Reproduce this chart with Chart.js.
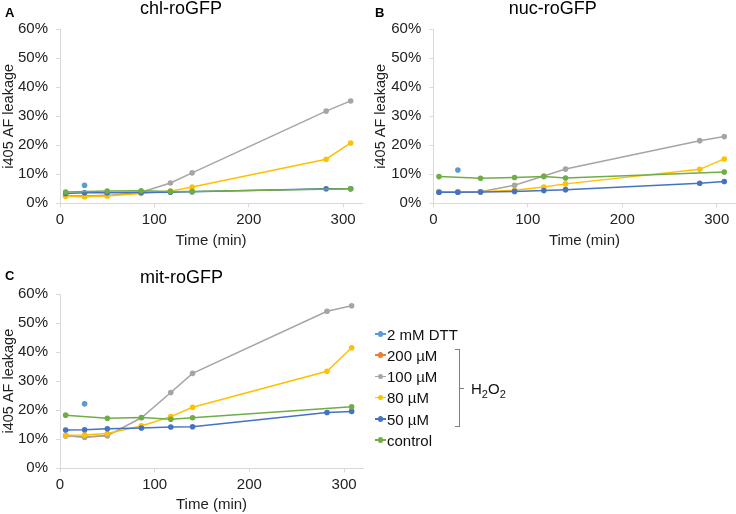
<!DOCTYPE html>
<html><head><meta charset="utf-8">
<script src="https://cdn.jsdelivr.net/npm/chart.js@4.4.0/dist/chart.umd.min.js"></script>
<style>
html,body{margin:0;padding:0;background:#fff;overflow:hidden;width:736px;height:514px;font-family:"Liberation Sans",Arial,sans-serif;}
canvas{position:absolute;}
.pl{position:absolute;font-weight:bold;font-size:13px;line-height:1;color:#000;}
.lg{position:absolute;font-size:15px;line-height:1;color:#111;white-space:nowrap;}
.mk{position:absolute;}
</style></head><body>
<canvas id="cA" width="376" height="250" style="left:0;top:0"></canvas>
<canvas id="cB" width="377" height="250" style="left:370px;top:0"></canvas>
<canvas id="cC" width="379" height="245" style="left:0;top:269px"></canvas>
<div class="pl" style="left:5px;top:6px">A</div>
<div class="pl" style="left:375px;top:6px">B</div>
<div class="pl" style="left:5px;top:269px">C</div>
<div id="legend"></div>
<div style="position:absolute;left:455px;top:349px;width:4px;height:76px;border:1px solid #808080;border-left:none;"></div>
<div style="position:absolute;left:460px;top:388px;width:4px;height:1px;background:#808080;"></div>
<div class="lg" style="left:471px;top:381px">H<span style="font-size:11px;position:relative;top:4px">2</span>O<span style="font-size:11px;position:relative;top:4px">2</span></div>
<script>
// time points (min)
const times = [6, 26, 50, 86, 117, 140, 282, 308];
const seriesNames = ['2 mM DTT', '200 µM', '100 µM', '80 µM', '50 µM', 'control'];
const seriesColors = ['#5B9BD5', '#ED7D31', '#A5A5A5', '#FFC000', '#4472C4', '#70AD47'];
const yTickLabels = ['0%', '10%', '20%', '30%', '40%', '50%', '60%'];

// Panel A: chl-roGFP (% i405 AF leakage)
const chlDTT  = [null, 6.2, null, null, null, null, null, null];
const chl200  = [2.6, 2.5, 2.8, null, null, null, null, null];
const chl100  = [2.6, 2.5, 2.7, 3.8, 7.0, 10.5, 31.8, 35.3];
const chl80   = [2.4, 2.3, 2.5, 3.4, 4.2, 5.6, 15.2, 20.8];
const chl50   = [3.4, 3.6, 3.6, 3.7, 3.8, 4.0, 5.0, 5.0];
const chlCtrl = [3.9, null, 4.2, 4.3, 4.1, 4.1, null, 5.0];

// Panel B: nuc-roGFP
const nucDTT  = [null, 11.5, null, null, null, null, null, null];
const nuc200  = [3.9, 3.9, 4.0, null, null, null, null, null];
const nuc100  = [3.9, 4.0, 4.0, 6.2, 9.4, 11.8, 21.6, 23.0];
const nuc80   = [3.9, 3.9, 4.0, 4.5, 5.6, 6.7, 11.7, 15.3];
const nuc50   = [3.8, 3.8, 3.9, 4.1, 4.4, 4.7, 6.9, 7.5];
const nucCtrl = [9.2, null, 8.6, 8.9, 9.2, 8.7, null, 10.8];

// Panel C: mit-roGFP
const mitDTT  = [null, 22.2, null, null, null, null, null, null];
const mit200  = [11.2, 10.8, 11.3, null, null, null, null, null];
const mit100  = [11.2, 10.7, 11.2, 17.4, 26.1, 32.7, 54.1, 56.0];
const mit80   = [11.4, 11.5, 12.0, 14.6, 17.8, 21.0, 33.4, 41.5];
const mit50   = [13.2, 13.3, 13.6, 13.9, 14.2, 14.3, 19.2, 19.6];
const mitCtrl = [18.3, null, 17.2, 17.5, 16.9, 17.4, null, 21.2];

Chart.defaults.font.family = '"Liberation Sans", Arial, sans-serif';
const axisColor = '#D9D9D9';
const textColor = '#222';

function makeChart(id, title, series, g) {
  const datasets = series.map((vals, i) => {
    const pts = [];
    vals.forEach((v, j) => { if (v !== null) pts.push({x: times[j], y: v}); });
    return {
      label: seriesNames[i],
      data: pts,
      borderColor: seriesColors[i],
      backgroundColor: seriesColors[i],
      borderWidth: 1.5,
      pointRadius: 2.8,
      pointBorderWidth: 0,
      pointHoverRadius: 2.8,
      showLine: i !== 0,
      tension: 0,
      order: series.length - i
    };
  });
  return new Chart(document.getElementById(id), {
    type: 'line',
    data: {datasets},
    options: {
      responsive: false,
      animation: false,
      layout: {padding: {left: 0, right: g.padRight, top: 0, bottom: 0}},
      plugins: {
        legend: {display: false},
        tooltip: {enabled: false},
        title: {display: true, text: title, color: '#000',
          font: {size: 18, weight: 'normal', lineHeight: 0.9},
          padding: {top: 1, bottom: g.titleGap}}
      },
      scales: {
        x: {
          type: 'linear', min: 0, max: 320,
          ticks: {stepSize: 100, includeBounds: false, color: textColor, font: {size: 15}, padding: 4, maxRotation: 0},
          grid: {drawOnChartArea: false, drawTicks: true, tickLength: 4, color: axisColor},
          border: {color: axisColor, width: 1},
          title: {display: true, text: 'Time (min)', color: textColor, font: {size: 15}, padding: {top: 0, bottom: g.xTitlePad}},
          afterFit: s => { s.height = g.xHeight; }
        },
        y: {
          min: 0, max: 60,
          ticks: {stepSize: 10, color: textColor, font: {size: 15}, padding: 8,
            callback: (v) => yTickLabels[Math.round(v / 10)]},
          grid: {drawOnChartArea: false, drawTicks: true, tickLength: 4, color: axisColor},
          border: {color: axisColor, width: 1},
          title: {display: true, text: 'i405 AF leakage', color: textColor, font: {size: 14.5}, padding: {top: g.yTitlePad, bottom: 0}},
          afterFit: s => { s.width = g.yWidth; }
        }
      }
    }
  });
}

makeChart('cA', 'chl-roGFP', [chlDTT, chl200, chl100, chl80, chl50, chlCtrl],
  {padRight: 14, titleGap: 12.1, xHeight: 46.7, xTitlePad: 0, yWidth: 60, yTitlePad: 0});
makeChart('cB', 'nuc-roGFP', [nucDTT, nuc200, nuc100, nuc80, nuc50, nucCtrl],
  {padRight: 11.4, titleGap: 12.1, xHeight: 46.7, xTitlePad: 0, yWidth: 63.3, yTitlePad: 2});
makeChart('cC', 'mit-roGFP', [mitDTT, mit200, mit100, mit80, mit50, mitCtrl],
  {padRight: 16, titleGap: 7.9, xHeight: 45.7, xTitlePad: 0, yWidth: 60, yTitlePad: 0});

// legend built from the series arrays
const lg = document.getElementById('legend');
seriesNames.forEach((name, i) => {
  const cy = 334 + i * 21.2;
  const line = document.createElement('div');
  line.className = 'mk';
  line.style.cssText = `left:375px;top:${cy - 0.75}px;width:11px;height:1.5px;background:${seriesColors[i]}`;
  const dot = document.createElement('div');
  dot.className = 'mk';
  dot.style.cssText = `left:${380.5 - 2.8}px;top:${cy - 2.8}px;width:5.6px;height:5.6px;border-radius:50%;background:${seriesColors[i]}`;
  const txt = document.createElement('div');
  txt.className = 'lg';
  txt.style.cssText = `left:387px;top:${cy - 7.3}px`;
  txt.textContent = name;
  lg.appendChild(line); lg.appendChild(dot); lg.appendChild(txt);
});
</script>
</body></html>
